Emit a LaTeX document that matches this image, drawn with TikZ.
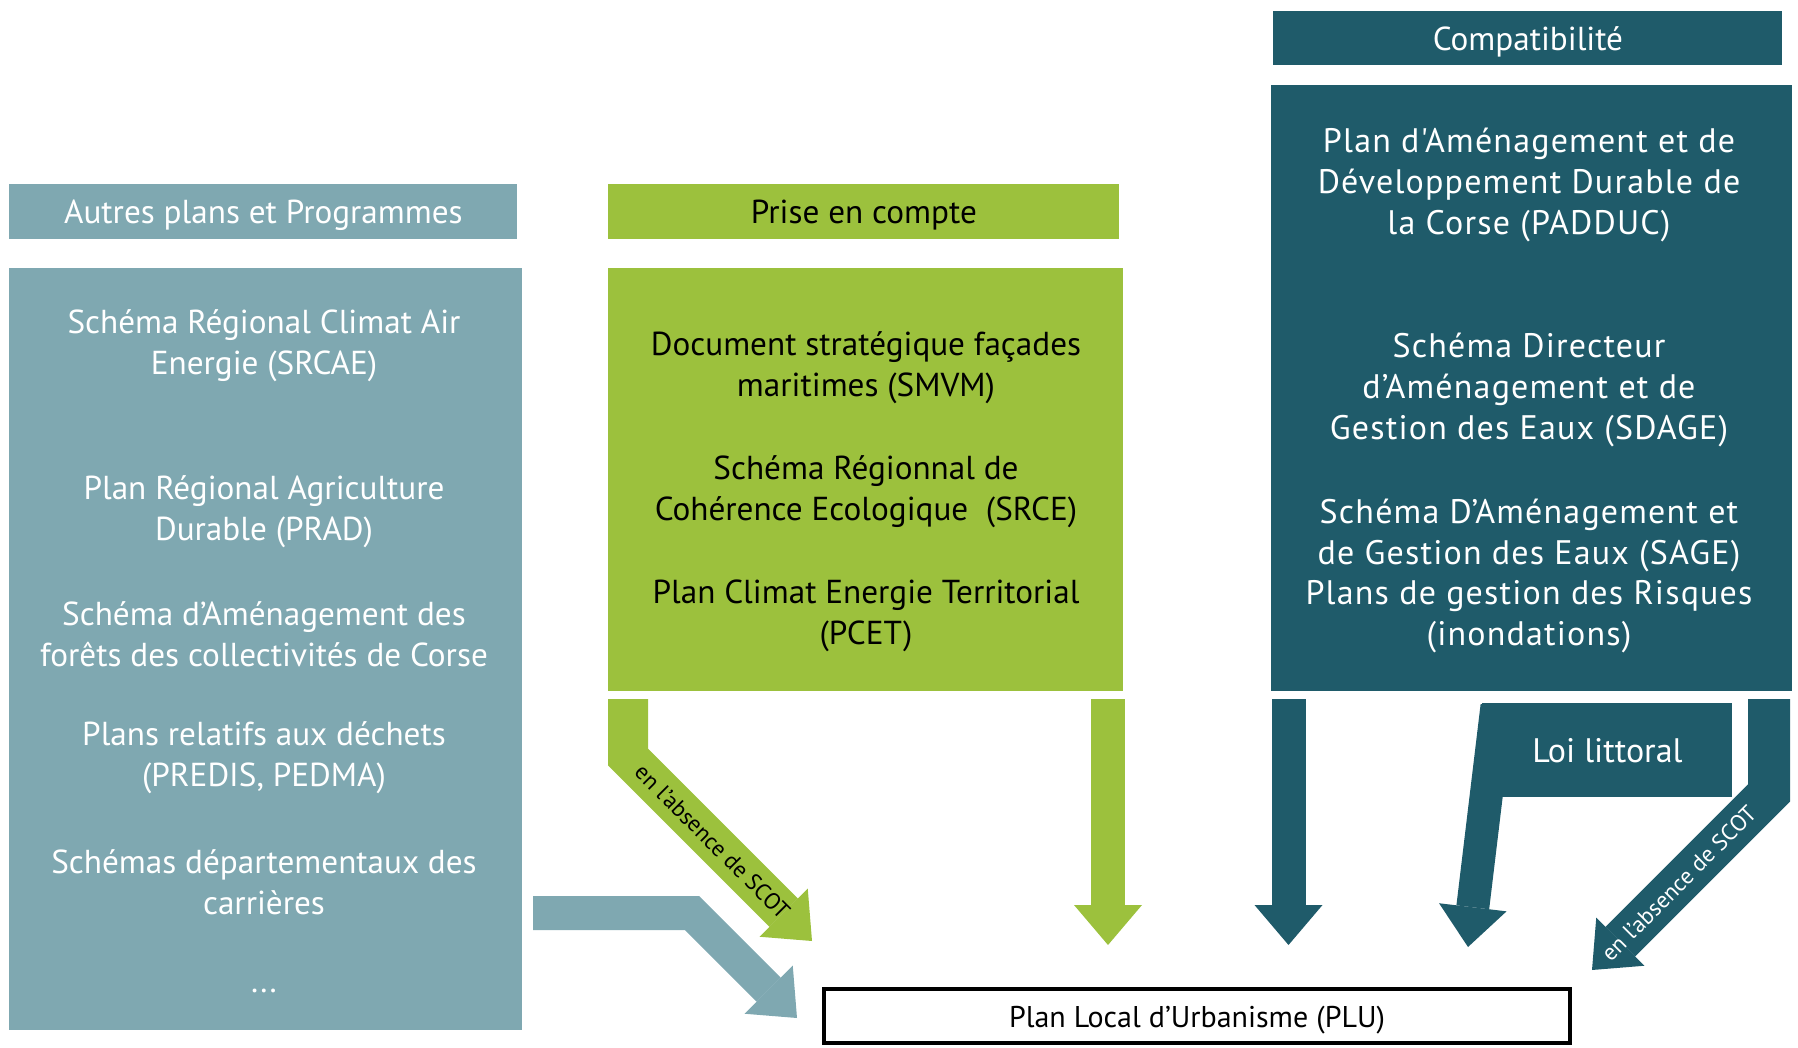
\documentclass[tikz,border=0pt]{standalone}
\usepackage{fontspec}
\setmainfont{PT Sans}
\newfontfamily\espace[LetterSpace=3.5]{PT Sans}
\usetikzlibrary{arrows.meta,positioning}
\definecolor{bleuclair}{HTML}{7FA8B1}
\definecolor{vert}{HTML}{9CC13D}
\definecolor{bleufonce}{HTML}{1F5B6A}
\tikzset{
    % boites de couleur
    bloc/.style={
           rectangle,
           fill=#1,
           inner sep=0pt},
    % texte des boites
    texte/.style={
           align=center,
           text=white,
           font=\fontsize{16.6}{20.5}\selectfont},
    % texte plus espace (colonne de droite)
    texteC/.style={
           texte,
           font=\espace\fontsize{17}{20.5}\selectfont},
    % titres des colonnes
    titre/.style={
           texte,
           text height=16.5pt,
           text depth=4pt},
    % grosses fleches
    fleche/.style={
           draw=#1,
           line width=17pt,
           line join=miter,
           -{Triangle[width=34pt,length=20pt,line width=0pt]}},
    % texte sur les fleches
    etiq/.style={
           sloped,
           inner sep=0pt,
           font=\fontsize{11.5}{13}\selectfont}
}
\begin{document}
\begin{tikzpicture}[x=0.5pt,y=-0.5pt]
  \useasboundingbox (0,0) rectangle (1798,1048);
  % colonnes
  \node[bloc=bleuclair, minimum width=256.5pt, minimum height=381pt, anchor=north west] (autres) at (9,268) {};
  \node[bloc=bleuclair, minimum width=254pt, minimum height=27.5pt, above=14.5pt of autres.north west, anchor=south west, titre] (autresT) {Autres plans et Programmes};
  \node[bloc=vert, minimum width=257.5pt, minimum height=211.5pt, anchor=north west] (prise) at (608,268) {};
  \node[bloc=vert, minimum width=255.5pt, minimum height=27.5pt, above=14.5pt of prise.north west, anchor=south west, titre, text=black] (priseT) {Prise en compte};
  \node[bloc=bleufonce, minimum width=260.5pt, minimum height=303pt, anchor=north west] (compat) at (1271,85) {};
  \node[bloc=bleufonce, minimum width=254.5pt, minimum height=27pt, above right=10pt and 1pt of compat.north west, anchor=south west, titre] (compatT) {Compatibilité};
  % autres plans
  \node[texte] (srcae) at (264,346) {Schéma Régional Climat Air\\Energie (SRCAE)};
  \node[texte] (prad) at (264,512) {Plan Régional Agriculture\\Durable (PRAD)};
  \node[texte] (forets) at (264,634) {Schéma d’Aménagement des\\forêts des collectivités de Corse};
  \node[texte] (dechets) at (264,758) {Plans relatifs aux déchets\\(PREDIS, PEDMA)};
  \node[texte] (carrieres) at (264,882) {Schémas départementaux des\\carrières};
  \node[texte] (etc) at (264,991) {...};
  % prise en compte
  \node[texte, text=black] (smvm) at (866,368) {Document stratégique façades\\maritimes (SMVM)};
  \node[texte, text=black] (srce) at (866,492) {Schéma Régionnal de\\Cohérence Ecologique\ \ (SRCE)};
  \node[texte, text=black] (pcet) at (866,616) {Plan Climat Energie Territorial\\(PCET)};
  % compatibilite
  \node[texteC] (padduc) at (1529,185) {Plan d'Aménagement et de\\Développement Durable de\\la Corse (PADDUC)};
  \node[texteC] (sdage) at (1529,390) {Schéma Directeur\\d’Aménagement et de\\Gestion des Eaux (SDAGE)};
  \node[texteC] (sage) at (1529,535) {Schéma D’Aménagement et\\de Gestion des Eaux (SAGE)};
  \node[texteC] (risques) at (1529,617) {Plans de gestion des Risques\\(inondations)};
  % PLU
  \node[draw=black, line width=2pt, minimum width=373pt, minimum height=27pt, text height=15pt, text depth=3.75pt, font=\fontsize{15}{18}\selectfont] (plu) at (1197,1016) {Plan Local d’Urbanisme (PLU)};
  % points des fleches
  \coordinate (autresA) at (533,913);
  \coordinate (autresB) at (692,913);
  \coordinate (autresC) at (797,1018);
  \coordinate (absVa) at (628,699);
  \coordinate (absVb) at (628,757);
  \coordinate (absVc) at (812,941);
  \coordinate (priseA) at (1108,699);
  \coordinate (priseB) at (1108,945);
  \coordinate (compatA) at (1288.5,699);
  \coordinate (compatB) at (1288.5,945);
  \coordinate (loiA) at (1497,706);
  \coordinate (loiB) at (1468,947);
  \coordinate (absCa) at (1769,699);
  \coordinate (absCb) at (1769,793);
  \coordinate (absCc) at (1592,970);
  % fleches
  \draw[fleche=bleuclair] (autresA) -- (autresB) -- (autresC);
  \draw[fleche=vert, line width=20pt] (absVa) -- (absVb) -- node[etiq, pos=0.46] {en l’absence de SCOT} (absVc);
  \draw[fleche=vert] (priseA) -- (priseB);
  \draw[fleche=bleufonce] (compatA) -- (compatB);
  \draw[fleche=bleufonce, line width=16.5pt] (loiA) -- (loiB);
  \draw[fleche=bleufonce, line width=21pt] (absCa) -- (absCb) -- node[etiq, pos=0.51, text=white] {en l’absence de SCOT} (absCc);
  \node[bloc=bleufonce, minimum width=125pt, minimum height=47pt, anchor=north west, texte, font=\fontsize{17}{20.5}\selectfont] (loi) at (1482,703) {Loi littoral};
\end{tikzpicture}
\end{document}
